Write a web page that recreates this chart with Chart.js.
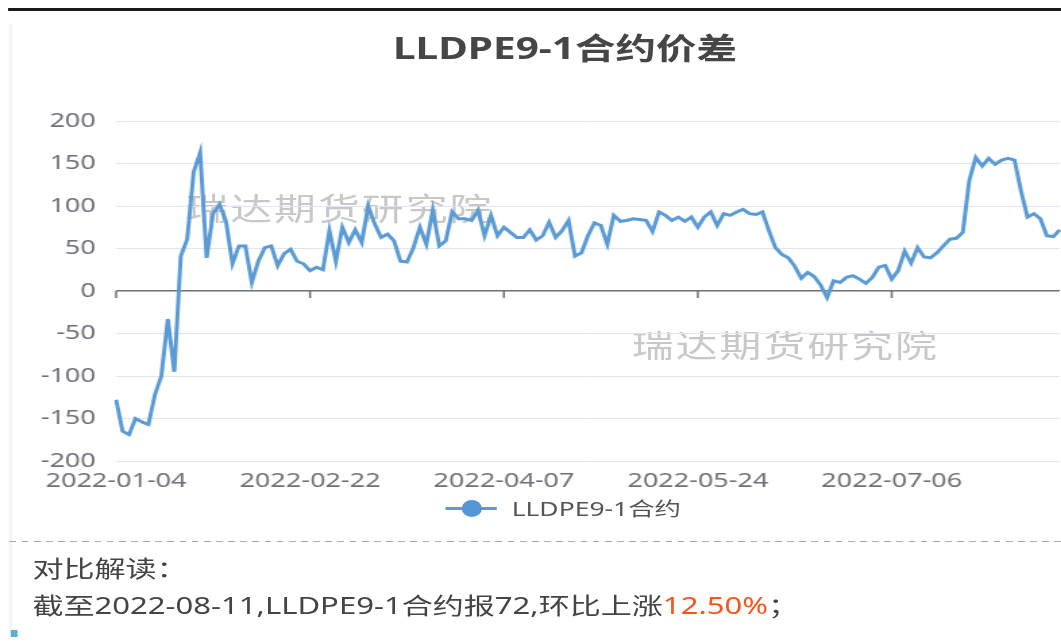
<!DOCTYPE html>
<html>
<head>
<meta charset="utf-8">
<script src="https://cdn.jsdelivr.net/npm/chart.js@4/dist/chart.umd.min.js"></script>
<style>
  html, body { margin: 0; padding: 0; background: #fff; width: 1061px; height: 643px; overflow: hidden; }
  body { font-family: "Noto Sans", "Noto Sans CJK SC", sans-serif; }
  /* 原圖整體水平拉伸，這裡用 scaleX 模擬 */
  #stage { position: absolute; left: 0; top: 0; width: 786px; height: 643px; transform: scaleX(1.35); transform-origin: 0 0; }
  #stage > div { position: absolute; }
  #topBar { left: 6px; top: 8px; width: 780px; height: 3px; background: #1a1a1a; }
  #leftEdge { left: 7px; top: 24px; width: 2px; height: 610px; background: #f3f3f3; }
  #title { left: 0; top: 28px; width: 837px; line-height: 40px; text-align: center; font-size: 30px; font-weight: bold; color: #464646; }
  .mark { font-size: 31px; line-height: 34px; letter-spacing: 1.5px; color: #c8c8c8; white-space: nowrap; }
  #mark1 { left: 138px; top: 191px; }
  #mark2 { left: 468px; top: 328px; }
  #chartBox { left: 0; top: 0; width: 837px; height: 501px; }
  #legendLine { left: 330px; top: 507px; width: 38px; height: 3px; background: #5b9bd5; }
  #legendDot { left: 341.5px; top: 500px; width: 15px; height: 17px; border-radius: 50%; background: #5596d6; }
  #legendText { left: 379px; top: 495px; line-height: 28px; font-size: 19.6px; color: #555; white-space: nowrap; }
  #dash { left: 7px; top: 541px; width: 780px; height: 1px; background: repeating-linear-gradient(to right, #aaa 0 5px, transparent 5px 9px); }
  .note { left: 24px; line-height: 30px; font-size: 23px; color: #444; white-space: nowrap; }
  #note1 { top: 553px; }
  #note2 { top: 590px; }
  #note2 .up { color: #fa541c; }
  #corner { left: 8px; top: 630px; width: 4.5px; height: 7px; background: #5aafd6; }
</style>
</head>
<body>
<div id="stage">
  <div id="topBar"></div>
  <div id="leftEdge"></div>
  <div id="title">LLDPE9-1合约价差</div>
  <div class="mark" id="mark1">瑞达期货研究院</div>
  <div class="mark" id="mark2">瑞达期货研究院</div>
  <div id="chartBox"><canvas id="spreadChart"></canvas></div>
  <div id="legendLine"></div>
  <div id="legendDot"></div>
  <div id="legendText">LLDPE9-1合约</div>
  <div id="dash"></div>
  <div class="note" id="note1">对比解读：</div>
  <div class="note" id="note2">截至2022-08-11,LLDPE9-1合约报72,环比上涨<span class="up">12.50%</span>；</div>
  <div id="corner"></div>
</div>
<script>
// 交易日（2022-01-04 ~ 2022-08-11）
const jan = ['04','05','06','07','10','11','12','13','14','17','18','19','20','21','24','25','26','27','28'];
const feb = ['07','08','09','10','11','14','15','16','17','18','21','22','23','24','25','28'];
const mar = ['01','02','03','04','07','08','09','10','11','14','15','16','17','18','21','22','23','24','25','28','29','30','31'];
const apr = ['01','06','07','08','11','12','13','14','15','18','19','20','21','22','25','26','27','28','29'];
const may = ['05','06','09','10','11','12','13','16','17','18','19','20','23','24','25','26','27','30','31'];
const jun = ['01','02','06','07','08','09','10','13','14','15','16','17','20','21','22','23','24','27','28','29','30'];
const jul = ['01','04','05','06','07','08','11','12','13','14','15','18','19','20','21','22','25','26','27','28','29'];
const aug = ['01','02','03','04','05','08','09','10','11'];

const dates = [].concat(
  jan.map(d => '2022-01-' + d), feb.map(d => '2022-02-' + d),
  mar.map(d => '2022-03-' + d), apr.map(d => '2022-04-' + d),
  may.map(d => '2022-05-' + d), jun.map(d => '2022-06-' + d),
  jul.map(d => '2022-07-' + d), aug.map(d => '2022-08-' + d)
);

// LLDPE9-1合约价差
const spread = [
  -128, -165, -169, -150, -154, -157, -122, -100, -33, -95,
  41, 61, 140, 163, 39, 91, 102, 82, 32, 53,
  53, 10, 35, 51, 53, 30, 44, 49, 35, 32,
  24, 28, 25, 71, 35, 75, 57, 72, 57, 100,
  79, 63, 67, 59, 35, 34, 51, 75, 55, 95,
  53, 59, 93, 85, 85, 83, 95, 65, 89, 65,
  75, 69, 63, 63, 72, 60, 65, 81, 63, 71,
  83, 41, 45, 65, 80, 77, 55, 89, 82, 83,
  85, 84, 83, 70, 93, 89, 83, 87, 82, 87,
  75, 87, 93, 77, 91, 89, 93, 96, 91, 90,
  93, 71, 51, 43, 39, 29, 15, 22, 17, 7,
  -8, 12, 10, 16, 18, 14, 9, 16, 28, 30,
  14, 24, 47, 33, 51, 40, 39, 45, 53, 61,
  62, 69, 130, 157, 147, 156, 149, 154, 156, 154,
  118, 87, 91, 85, 65, 64, 72
];

const yTicks = [-200, -150, -100, -50, 0, 50, 100, 150, 200];
const LABEL_STEP = 30;

Chart.defaults.font.family = '"Noto Sans", "Noto Sans CJK SC", sans-serif';

// 零軸上的刻度線
const zeroTicks = {
  id: 'zeroTicks',
  beforeDatasetsDraw(chart) {
    const { ctx, scales: { x, y } } = chart;
    const y0 = y.getPixelForValue(0);
    ctx.save();
    ctx.strokeStyle = '#6e7079';
    ctx.lineWidth = 1.5;
    dates.forEach((d, i) => {
      if (i % LABEL_STEP) return;
      const px = x.getPixelForValue(i);
      ctx.beginPath();
      ctx.moveTo(px, y0);
      ctx.lineTo(px, y0 + 7);
      ctx.stroke();
    });
    ctx.restore();
  }
};

const ctx = document.getElementById('spreadChart').getContext('2d');
new Chart(ctx, {
  type: 'line',
  data: {
    labels: dates,
    datasets: [{
      label: 'LLDPE9-1合约',
      data: spread,
      borderColor: '#5b9bd5',
      borderWidth: 3,
      pointRadius: 0,
      tension: 0,
      fill: false
    }]
  },
  options: {
    responsive: true,
    maintainAspectRatio: false,
    animation: false,
    layout: { padding: { top: 121, right: 52, bottom: 0, left: 0 } },
    plugins: {
      legend: { display: false },
      title: { display: false },
      tooltip: { enabled: false }
    },
    scales: {
      x: {
        grid: { display: false, drawTicks: false },
        border: { display: false },
        ticks: {
          autoSkip: false,
          maxRotation: 0,
          padding: 8,
          color: '#6e7079',
          font: { size: 20 },
          callback: (v, i) => (i % LABEL_STEP === 0 ? dates[i] : null)
        },
        afterFit: s => { s.height = 40; }
      },
      y: {
        min: yTicks[0],
        max: yTicks[yTicks.length - 1],
        afterBuildTicks: s => { s.ticks = yTicks.map(v => ({ value: v })); },
        grid: {
          drawTicks: false,
          color: c => (c.tick.value === 0 ? '#6e7079' : '#e0e6f1'),
          lineWidth: c => (c.tick.value === 0 ? 1.5 : 1)
        },
        border: { display: false },
        ticks: { padding: 15, color: '#6e7079', font: { size: 20 } },
        afterFit: s => { s.width = 86; }
      }
    }
  },
  plugins: [zeroTicks]
});
</script>
</body>
</html>
